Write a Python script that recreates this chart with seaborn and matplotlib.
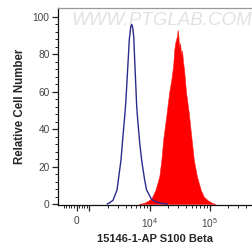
import numpy as np
import pandas as pd
import matplotlib
matplotlib.use('Agg')
import matplotlib.pyplot as plt
import seaborn as sns

# isotype control (blue outline)
ctrl_x = [1970, 2130, 2470, 2880, 3350, 3610, 3890, 4040, 4360, 4610, 4880, 5070, 5270,
          5470, 5680, 6120, 6360, 6850, 7390, 8280, 8930, 10790, 13030, 15730, 19740]
ctrl_y = [0, 0.5, 2, 7.5, 23.5, 36, 48, 55, 74, 88, 95, 96, 94,
          89, 76, 52, 45, 33, 23.5, 13, 7.5, 2.5, 1, 0.4, 0]

# S100 Beta stained sample (red filled)
s100_x = [6600, 7970, 9270, 10780, 12540, 14590, 15730, 16960, 18990, 21280, 22950, 24740,
          25690, 26680, 27710, 28770, 29320, 29880, 31030, 32230, 33470, 34750, 36090, 37480,
          40430, 45270, 48810, 54660, 61230, 71200, 79700, 92730, 107800, 125400]
s100_y = [0, 0.5, 1.5, 3, 7.5, 15, 23.5, 35, 47, 60, 66, 74,
          82, 86, 88, 90, 93, 92, 84, 86, 80, 82, 76, 72,
          60, 48, 38, 23.5, 15, 7.5, 4, 2, 0.7, 0]

x_major = [0, 1e3, 1e4, 1e5]
x_major_labels = ['0', '', '$10^4$', '$10^5$']
y_ticks = [0, 20, 40, 60, 80, 100]
x_limits = (-1250, 5.07e5)

sns.set_style('ticks')
plt.rcParams['font.family'] = ['Liberation Sans', 'DejaVu Sans']
plt.rcParams['mathtext.default'] = 'regular'

fig = plt.figure(figsize=(2.52, 2.49), dpi=100)
ax = fig.add_axes([0.230, 0.177, 0.77, 0.791])

ax.set_xscale('symlog', linthresh=1000, linscale=0.192)

ax.fill_between(s100_x, s100_y, 0, color='#ff0000', linewidth=0.4, edgecolor='#ff2020', zorder=2)
ctrl = pd.DataFrame({'x': ctrl_x, 'y': ctrl_y})
sns.lineplot(data=ctrl, x='x', y='y', ax=ax, color='#2b2b8c', linewidth=1.0, sort=False,
             estimator=None, zorder=3)

# ticks
minor_x = [-1000, -800, -600, -400, -200, 200, 400, 600, 800]
for dec in [1e3, 1e4, 1e5]:
    minor_x += [m * dec for m in range(2, 10) if m * dec < x_limits[1]]
ax.set_xticks(x_major)
ax.set_xticklabels(x_major_labels)
ax.set_xticks(minor_x, minor=True)
ax.set_yticks(y_ticks)
ax.set_yticks(np.arange(0, 104, 4), minor=True)

ax.set_xlim(*x_limits)
ax.set_ylim(-0.5, 104.8)

ax.tick_params(axis='both', which='major', direction='out', length=4, width=0.9,
               labelsize=7.3, labelcolor='#444444', color='#222222', pad=2)
ax.tick_params(axis='both', which='minor', direction='out', length=2.2, width=0.7, color='#222222')
ax.tick_params(axis='x', which='major', pad=4)

for s in ['left', 'bottom']:
    ax.spines[s].set_color('#111111')
    ax.spines[s].set_linewidth(0.9)
ax.spines['top'].set_color('#999999')
ax.spines['top'].set_linewidth(0.9)
ax.spines['right'].set_visible(False)

ax.set_xlabel('15146-1-AP S100 Beta', fontsize=8, fontweight='bold', labelpad=3)
ax.set_ylabel('Relative Cell Number', fontsize=8.3, fontweight='bold', labelpad=5)

# watermark
ax.text(0.535, 0.935, 'WWW.PTGLAB.COM', transform=ax.transAxes, ha='center', va='center',
        fontsize=13.5, color='#e2e2e2', fontstyle='italic', zorder=1)

fig.savefig('out.png', dpi=100)
